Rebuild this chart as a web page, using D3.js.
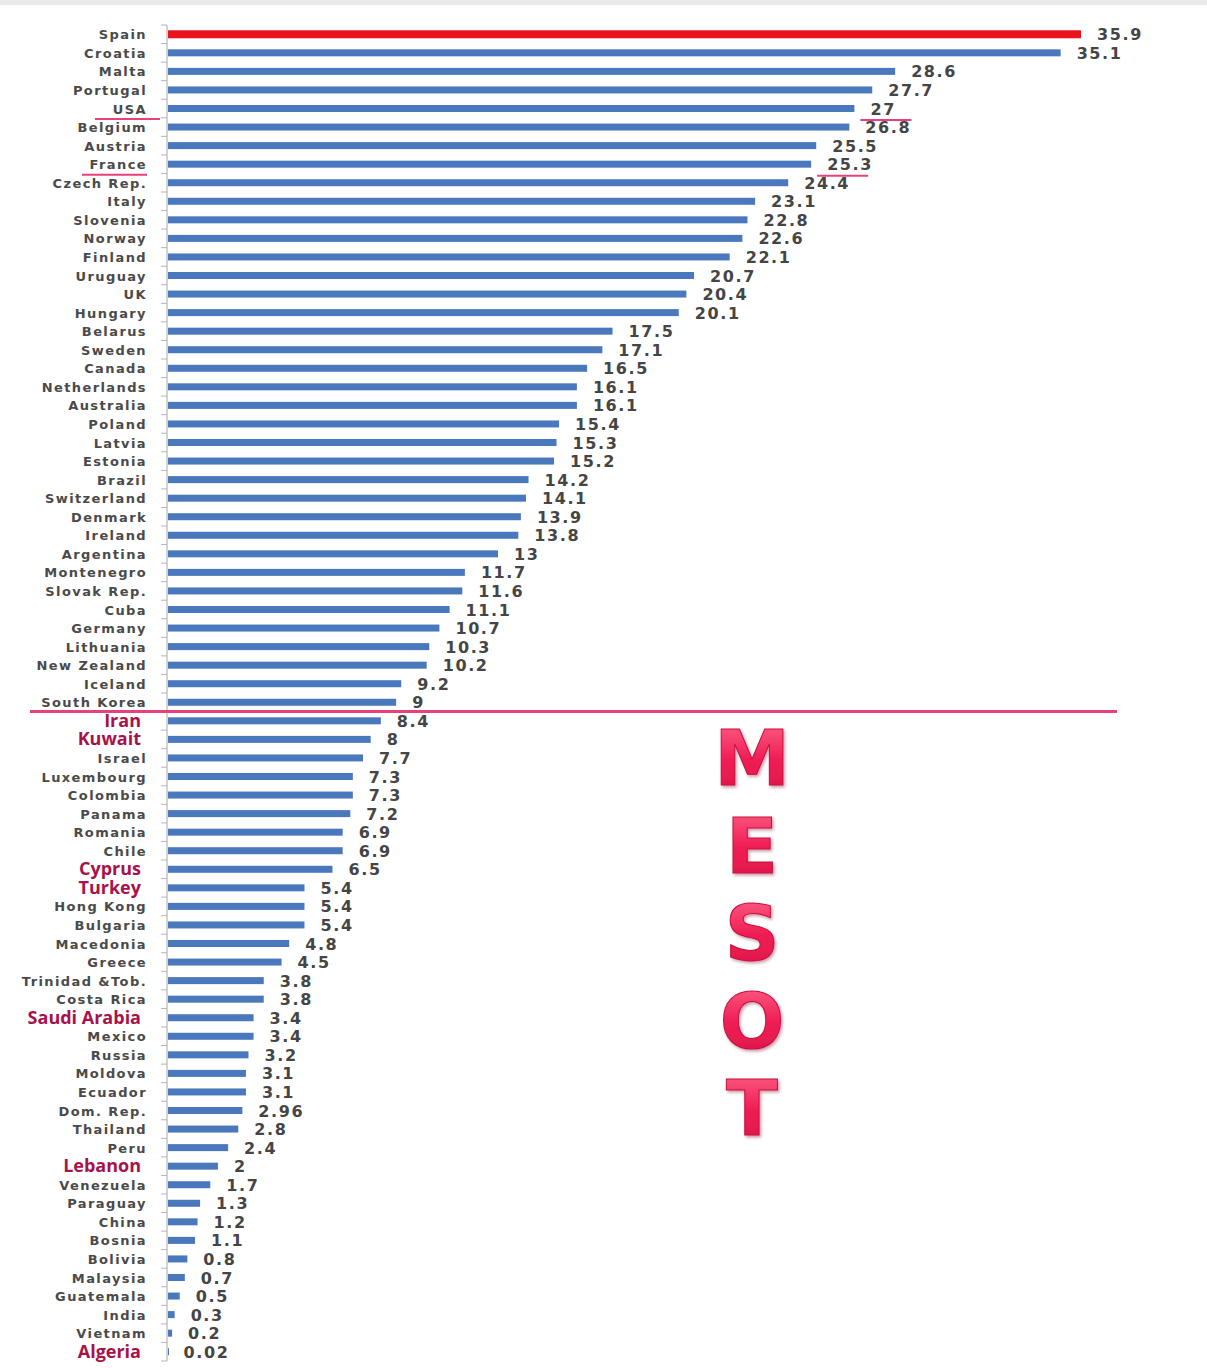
<!DOCTYPE html>
<html>
<head>
<meta charset="utf-8">
<script src="https://cdn.jsdelivr.net/npm/d3@7"></script>
<style>
  body { margin: 0; background: #fff; }
  .label { font-family: "DejaVu Sans", sans-serif; font-size: 13px; font-weight: bold; letter-spacing: 1.4px; fill: #4a4a4a; }
  .label.hot { font-family: "Open Sans", "Liberation Sans", sans-serif; font-size: 18px; font-weight: bold; letter-spacing: 0; fill: #a8124a; }
  .value { font-family: "DejaVu Sans", sans-serif; font-size: 16px; font-weight: bold; letter-spacing: 1.6px; fill: #454545; }
  .mesot { font-family: "DejaVu Sans", sans-serif; font-size: 76px; font-weight: bold; }
</style>
</head>
<body>
<script>
var width = 1207, height = 1368;

var countries = ["Spain","Croatia","Malta","Portugal","USA","Belgium","Austria","France","Czech Rep.","Italy",
    "Slovenia","Norway","Finland","Uruguay","UK","Hungary","Belarus","Sweden","Canada","Netherlands",
    "Australia","Poland","Latvia","Estonia","Brazil","Switzerland","Denmark","Ireland","Argentina","Montenegro",
    "Slovak Rep.","Cuba","Germany","Lithuania","New Zealand","Iceland","South Korea","Iran","Kuwait","Israel",
    "Luxembourg","Colombia","Panama","Romania","Chile","Cyprus","Turkey","Hong Kong","Bulgaria","Macedonia",
    "Greece","Trinidad &Tob.","Costa Rica","Saudi Arabia","Mexico","Russia","Moldova","Ecuador","Dom. Rep.","Thailand",
    "Peru","Lebanon","Venezuela","Paraguay","China","Bosnia","Bolivia","Malaysia","Guatemala","India",
    "Vietnam","Algeria"];

var values = [35.9,35.1,28.6,27.7,27,26.8,25.5,25.3,24.4,23.1,
    22.8,22.6,22.1,20.7,20.4,20.1,17.5,17.1,16.5,16.1,
    16.1,15.4,15.3,15.2,14.2,14.1,13.9,13.8,13,11.7,
    11.6,11.1,10.7,10.3,10.2,9.2,9,8.4,8,7.7,
    7.3,7.3,7.2,6.9,6.9,6.5,5.4,5.4,5.4,4.8,
    4.5,3.8,3.8,3.4,3.4,3.2,3.1,3.1,2.96,2.8,
    2.4,2,1.7,1.3,1.2,1.1,0.8,0.7,0.5,0.3,
    0.2,0.02];

// MESOT member countries, shown in red
var mesot = ["Iran","Kuwait","Cyprus","Turkey","Saudi Arabia","Lebanon","Algeria"];
// underlined rows
var underlined = ["USA","France"];
var topCountry = "Spain";
var splitAfter = "South Korea";
var letters = ["M","E","S","O","T"];

var data = countries.map(function(c, i){ return {country: c, value: values[i]}; });

var svg = d3.select("body").append("svg")
    .attr("width", width).attr("height", height);

var defs = svg.append("defs");
var grad = defs.append("linearGradient").attr("id", "pinkGrad")
    .attr("x1", 0).attr("y1", 0).attr("x2", 0).attr("y2", 1);
grad.append("stop").attr("offset", "0%").attr("stop-color", "#ff6a8e");
grad.append("stop").attr("offset", "50%").attr("stop-color", "#f01f55");
grad.append("stop").attr("offset", "100%").attr("stop-color", "#d81446");
var shadow = defs.append("filter").attr("id", "shadow").attr("x", "-20%").attr("y", "-20%").attr("width", "140%").attr("height", "140%");
shadow.append("feDropShadow").attr("dx", 1.5).attr("dy", 2).attr("stdDeviation", 1.5)
    .attr("flood-color", "#7a0a25").attr("flood-opacity", 0.4);

// top frame strip
svg.append("rect").attr("x", 0).attr("y", 0).attr("width", width).attr("height", 5).attr("fill", "#e9e9e9");

var x = d3.scaleLinear().domain([0, 35.9]).range([167, 1081]);
var y = d3.scaleBand().domain(countries).range([25, 1361]).paddingInner(0.62).paddingOuter(0.31);
var step = y.step();
var cy = function(c){ return y(c) + y.bandwidth() / 2; };

// axis line with ticks at category boundaries
svg.append("line").attr("x1", 167).attr("x2", 167).attr("y1", 25).attr("y2", 1361)
    .attr("stroke", "#b5b5b5").attr("stroke-width", 1.2);
svg.append("g").selectAll("line").data(d3.range(countries.length + 1)).enter().append("line")
    .attr("x1", 161).attr("x2", 167)
    .attr("y1", function(i){ return 25 + i * step; })
    .attr("y2", function(i){ return 25 + i * step; })
    .attr("stroke", "#b5b5b5");

// bars
svg.append("g").selectAll("rect").data(data).enter().append("rect")
    .attr("x", x(0) + 1)
    .attr("y", function(d){ return cy(d.country) - (d.country === topCountry ? 4 : 3.5); })
    .attr("height", function(d){ return d.country === topCountry ? 8 : 7; })
    .attr("width", function(d){ return Math.max(1, x(d.value) - x(0) - 1); })
    .attr("fill", function(d){ return d.country === topCountry ? "#e8131b" : "#4a78bc"; });

// category labels
svg.append("g").selectAll("text").data(data).enter().append("text")
    .attr("class", function(d){ return mesot.indexOf(d.country) >= 0 ? "label hot" : "label"; })
    .attr("x", function(d){ return mesot.indexOf(d.country) >= 0 ? 141 : 147; })
    .attr("y", function(d){ return cy(d.country) + (mesot.indexOf(d.country) >= 0 ? 6 : 5); })
    .attr("text-anchor", "end")
    .text(function(d){ return d.country; });

// value labels
svg.append("g").selectAll("text").data(data).enter().append("text")
    .attr("class", "value")
    .attr("x", function(d){ return x(d.value) + 16; })
    .attr("y", function(d){ return cy(d.country) + 6; })
    .text(function(d){ return d.value; });

// pink underlines
var pink = "#e8407a";
underlined.forEach(function(c){
    var d = data[countries.indexOf(c)];
    var ly = cy(c) + 10.5;
    var lx = c === "USA" ? 95 : 82;
    svg.append("line").attr("x1", lx).attr("x2", lx + 65).attr("y1", ly).attr("y2", ly)
        .attr("stroke", pink).attr("stroke-width", 2);
    var vx = x(d.value) + 6;
    svg.append("line").attr("x1", vx).attr("x2", vx + 51).attr("y1", ly + 1).attr("y2", ly + 1)
        .attr("stroke", pink).attr("stroke-width", 2);
});

// separator line
var sepY = y(splitAfter) + y.bandwidth() / 2 + step / 2;
svg.append("line").attr("x1", 30).attr("x2", 1117).attr("y1", sepY).attr("y2", sepY)
    .attr("stroke", pink).attr("stroke-width", 3);

// MESOT vertical word
svg.append("g").selectAll("text").data(letters).enter().append("text")
    .attr("class", "mesot")
    .attr("x", 752)
    .attr("y", function(d, i){ return 785 + i * 87.5; })
    .attr("text-anchor", "middle")
    .attr("fill", "url(#pinkGrad)")
    .attr("stroke", "#c80f3c").attr("stroke-width", 1)
    .attr("filter", "url(#shadow)")
    .text(function(d){ return d; });
</script>
</body>
</html>
